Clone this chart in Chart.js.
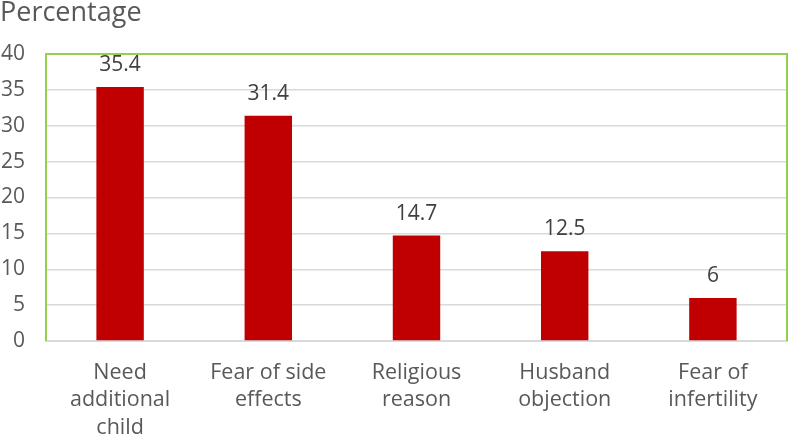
<!DOCTYPE html>
<html><head><meta charset="utf-8">
<script src="https://cdn.jsdelivr.net/npm/chart.js@4/dist/chart.umd.min.js"></script>
<style>html,body{margin:0;padding:0;background:#fff}#wrap{width:788px;height:443px}</style>
</head><body><div id="wrap"><canvas id="c"></canvas></div>
<script>
const categories = [["Need","additional","child"],["Fear of side","effects"],["Religious","reason"],["Husband","objection"],["Fear of","infertility"]];
const values = [35.4, 31.4, 14.7, 12.5, 6];
const valueLabels = ["35.4","31.4","14.7","12.5","6"];
const yTicks = [0,5,10,15,20,25,30,35,40];

const FONT = "'Open Sans', Lato, sans-serif";

const frame = {
  id: 'frame',
  afterDatasetsDraw(chart) {
    const {ctx, chartArea: a} = chart;
    ctx.save();
    ctx.strokeStyle = '#92D050';
    ctx.lineWidth = 2;
    ctx.beginPath();
    ctx.moveTo(a.left, a.bottom);
    ctx.lineTo(a.left, a.top);
    ctx.lineTo(a.right, a.top);
    ctx.lineTo(a.right, a.bottom);
    ctx.stroke();
    const meta = chart.getDatasetMeta(0);
    ctx.fillStyle = '#404040';
    ctx.font = "21px " + FONT;
    ctx.textAlign = 'center';
    ctx.textBaseline = 'alphabetic';
    meta.data.forEach((bar, i) => {
      ctx.fillText(valueLabels[i], bar.x, bar.y - 16);
    });
    ctx.restore();
  }
};

new Chart(document.getElementById('c'), {
  type: 'bar',
  data: {
    labels: categories,
    datasets: [{
      data: values,
      backgroundColor: '#C00000',
      categoryPercentage: 1,
      barPercentage: 0.32
    }]
  },
  options: {
    responsive: true,
    maintainAspectRatio: false,
    animation: false,
    layout: {padding: {left: 0, right: 1, top: 0, bottom: 0}},
    plugins: {
      legend: {display: false},
      tooltip: {enabled: false},
      title: {
        display: true, text: 'Percentage', align: 'start',
        color: '#595959', font: {family: FONT, size: 27, weight: 'normal', lineHeight: 1.0},
        padding: {top: 0, bottom: 27}
      }
    },
    scales: {
      x: {
        grid: {display: false, drawTicks: false},
        border: {color: '#d9d9d9', width: 2},
        ticks: {color: '#595959', font: {family: FONT, size: 21.5, lineHeight: 1.28}, padding: 18, maxRotation: 0, autoSkip: false},
        afterFit(axis) { axis.paddingLeft = 0; axis.paddingRight = 0; axis.height = 102; }
      },
      y: {
        min: 0, max: 40,
        afterBuildTicks(axis) { axis.ticks = yTicks.map(v => ({value: v})); },
        grid: {color: '#d9d9d9', lineWidth: 1.5, drawTicks: false},
        border: {display: false},
        ticks: {color: '#595959', font: {family: FONT, size: 21}, padding: 21},
        afterFit(axis) { axis.width = 46; axis.paddingTop = 0; axis.paddingBottom = 0; }
      }
    }
  },
  plugins: [frame]
});
</script></body></html>
